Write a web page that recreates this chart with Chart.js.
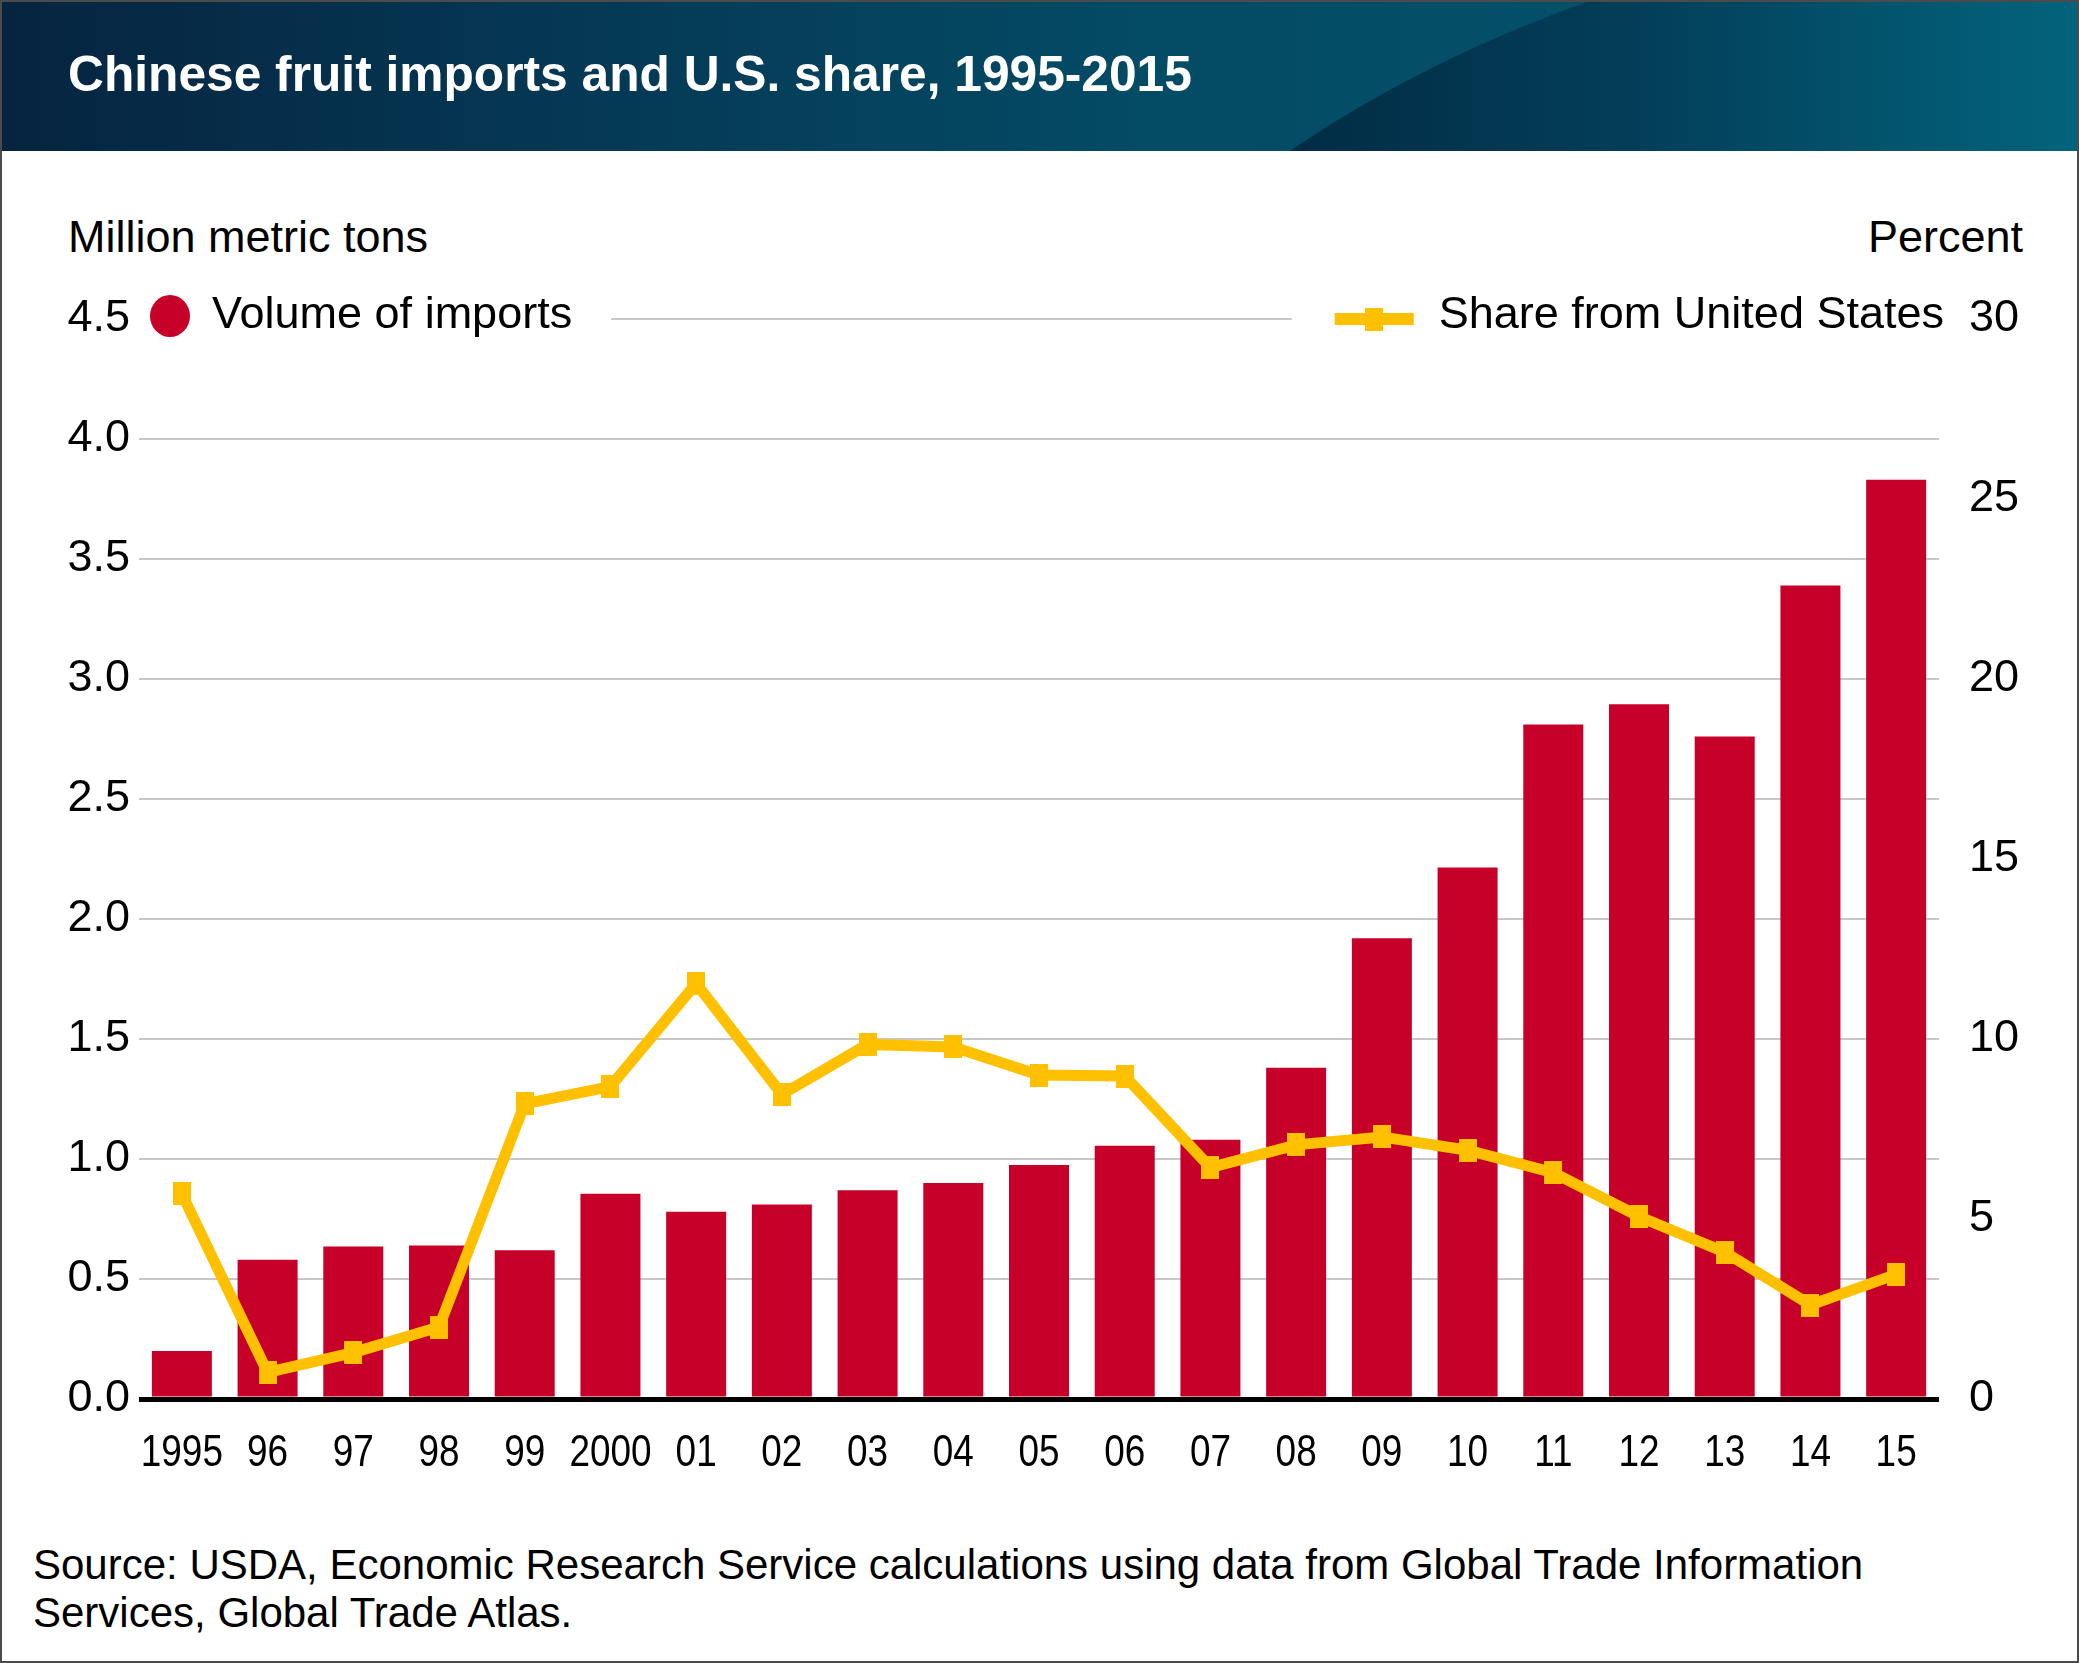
<!DOCTYPE html>
<html>
<head>
<meta charset="utf-8">
<script src="https://cdn.jsdelivr.net/npm/chart.js@4.4.1/dist/chart.umd.min.js"></script>
<style>
  html, body { margin: 0; padding: 0; background: #fff; }
  #page { position: relative; width: 2079px; height: 1663px; overflow: hidden; font-family: "Liberation Sans", Arial, Helvetica, sans-serif; color: #000; }
  #head { position: absolute; left: 0; top: 0; width: 2079px; height: 151px; overflow: hidden;
          background: linear-gradient(90deg, #062440 0%, #053a56 30%, #044b65 55%, #03546d 100%); }
  #wave { position: absolute; left: 951px; top: -100px; width: 2486px; height: 1600px; border-radius: 50%;
          background: linear-gradient(90deg, #022c45 339px, #033f5a 700px, #03556f 950px, #03637c 1128px); }
  #title { position: absolute; left: 68px; top: 49px; font-size: 49.7px; line-height: 50px; font-weight: bold; color: #fff; white-space: nowrap; }
  .axtitle { position: absolute; top: 214px; font-size: 45px; line-height: 45px; white-space: nowrap; }
  #source { position: absolute; left: 33px; top: 1541px; font-size: 42px; line-height: 48px; white-space: nowrap; }
  #chart { position: absolute; left: 0; top: 151px; }
  #border { position: absolute; left: 0; top: 0; width: 2079px; height: 1663px; box-sizing: border-box; border: 2px solid #4b4b4b; pointer-events: none; }
</style>
</head>
<body>
<div id="page">
  <div id="head"><div id="wave"></div><div id="title">Chinese fruit imports and U.S. share, 1995-2015</div></div>
  <div class="axtitle" style="left:68px">Million metric tons</div>
  <div class="axtitle" style="right:56px">Percent</div>
  <canvas id="chart" width="2079" height="1349" style="width:2079px;height:1349px"></canvas>
  <div id="source">Source: USDA, Economic Research Service calculations using data from Global Trade Information<br>Services, Global Trade Atlas.</div>
  <div id="border"></div>
</div>
<script>
// data
const years = ['1995', '96', '97', '98', '99', '2000', '01', '02', '03', '04', '05', '06', '07', '08', '09', '10', '11', '12', '13', '14', '15'];
const importVolume = [0.20, 0.58, 0.635, 0.64, 0.62, 0.855, 0.78, 0.81, 0.87, 0.90, 0.975, 1.055, 1.08, 1.38, 1.92, 2.215, 2.81, 2.895, 2.76, 3.39, 3.83];
const usShare = [5.7, 0.74, 1.29, 2.0, 8.2, 8.68, 11.54, 8.46, 9.85, 9.78, 9.0, 8.97, 6.43, 7.06, 7.28, 6.91, 6.29, 5.07, 4.08, 2.61, 3.46];
const seriesNames = ['Volume of imports', 'Share from United States'];

const barColor = '#C70029';
const lineColor = '#FFC000';
const gridColor = '#c8c8c8';
const font = '"Liberation Sans", Arial, Helvetica, sans-serif';

Chart.defaults.color = '#000';
Chart.defaults.font.family = font;

// markers are small upright rectangles, a bit taller than wide
const marker = document.createElement('canvas');
marker.width = 18;
marker.height = 23;
const mctx = marker.getContext('2d');
mctx.fillStyle = lineColor;
mctx.fillRect(0, 0, 18, 23);

// legend sits on the top (4.5) gridline, which is only drawn between the two entries
const topLegend = {
  id: 'topLegend',
  afterDraw(chart) {
    const { ctx, chartArea, scales } = chart;
    const y = scales.y.getPixelForValue(4.5);
    ctx.save();
    ctx.font = '45px ' + font;
    ctx.textBaseline = 'middle';

    // left entry
    ctx.fillStyle = barColor;
    ctx.beginPath();
    ctx.ellipse(chartArea.left + 31, y - 3, 20, 21, 0, 0, Math.PI * 2);
    ctx.fill();
    ctx.fillStyle = '#000';
    ctx.textAlign = 'left';
    const lx = chartArea.left + 73;
    ctx.fillText(seriesNames[0], lx, y - 3);
    const leftEnd = lx + ctx.measureText(seriesNames[0]).width;

    // right entry
    ctx.textAlign = 'right';
    const rx = chartArea.right + 5;
    ctx.fillText(seriesNames[1], rx, y - 3);
    const mEnd = rx - ctx.measureText(seriesNames[1]).width - 25;
    const mStart = mEnd - 79;
    ctx.strokeStyle = lineColor;
    ctx.lineWidth = 12;
    ctx.beginPath();
    ctx.moveTo(mStart, y);
    ctx.lineTo(mEnd, y);
    ctx.stroke();
    ctx.drawImage(marker, (mStart + mEnd) / 2 - 9, y - 11.5);

    // piece of the 4.5 gridline
    ctx.strokeStyle = gridColor;
    ctx.lineWidth = 2;
    ctx.beginPath();
    ctx.moveTo(leftEnd + 39, y);
    ctx.lineTo(mStart - 43, y);
    ctx.stroke();
    ctx.restore();
  }
};

// year labels are in a condensed face; squeeze them horizontally
const narrowYears = {
  id: 'narrowYears',
  afterDraw(chart) {
    const { ctx, scales } = chart;
    const xs = scales.x;
    ctx.save();
    ctx.font = '45px ' + font;
    ctx.fillStyle = '#000';
    ctx.textAlign = 'center';
    ctx.textBaseline = 'top';
    xs.ticks.forEach((t, i) => {
      ctx.save();
      ctx.translate(xs.getPixelForTick(i), xs.top + 32);
      ctx.scale(0.82, 1);
      ctx.fillText(xs.getLabelForValue(t.value), 0, 0);
      ctx.restore();
    });
    ctx.restore();
  }
};

new Chart(document.getElementById('chart'), {
  type: 'bar',
  data: {
    labels: years,
    datasets: [
      {
        type: 'line',
        label: seriesNames[1],
        data: usShare,
        yAxisID: 'y1',
        borderColor: lineColor,
        backgroundColor: lineColor,
        borderWidth: 11,
        pointStyle: marker,
        pointRadius: 12,
        tension: 0,
        order: 0
      },
      {
        label: seriesNames[0],
        data: importVolume,
        yAxisID: 'y',
        backgroundColor: barColor,
        barPercentage: 0.7,
        categoryPercentage: 1.0,
        order: 1
      }
    ]
  },
  options: {
    responsive: false,
    devicePixelRatio: 1,
    animation: false,
    events: [],
    layout: { padding: { top: 168, left: 0, right: 0, bottom: 0 } },
    plugins: { legend: { display: false }, tooltip: { enabled: false } },
    scales: {
      x: {
        grid: { display: false },
        border: { display: false },
        ticks: {
          color: 'rgba(0,0,0,0)',
          font: { size: 45 },
          padding: 22,
          maxRotation: 0,
          autoSkip: false
        },
        afterFit(scale) { scale.height = 101; }
      },
      y: {
        position: 'left',
        min: 0,
        max: 4.5,
        border: { display: false },
        grid: {
          drawTicks: false,
          color: (c) => c.tick.value === 0 ? '#000' : (c.tick.value === 4.5 ? 'rgba(0,0,0,0)' : gridColor),
          lineWidth: (c) => c.tick.value === 0 ? 5 : 2
        },
        ticks: {
          stepSize: 0.5,
          padding: 9,
          font: { size: 45 },
          callback: (v) => Number(v).toFixed(1)
        },
        afterFit(scale) { scale.width = 139; }
      },
      y1: {
        position: 'right',
        min: 0,
        max: 30,
        border: { display: false },
        grid: { display: false, drawTicks: false },
        ticks: { stepSize: 5, padding: 30, font: { size: 45 } },
        afterFit(scale) { scale.width = 140; }
      }
    }
  },
  plugins: [topLegend, narrowYears]
});
</script>
</body>
</html>
